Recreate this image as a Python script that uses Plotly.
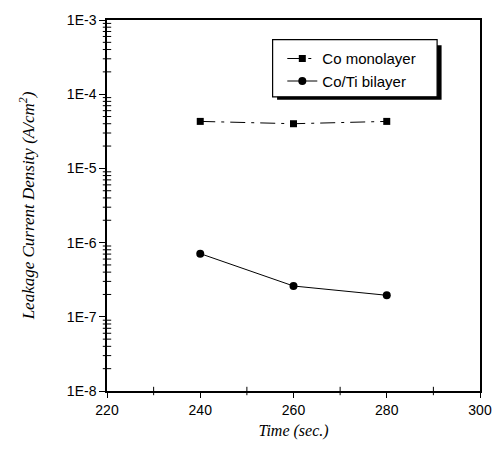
import plotly.graph_objects as go

# Anneal time (s) and leakage current density (A/cm^2)
time_s = [240, 260, 280]
co_mono = [4.3e-5, 4.0e-5, 4.3e-5]
co_ti = [7.1e-7, 2.6e-7, 1.95e-7]

decades = [-8, -7, -6, -5, -4, -3]
y_tickvals = [10.0 ** d for d in decades]
y_ticktext = ["1E%d" % d for d in decades]
y_minorvals = [m * 10.0 ** d for d in decades[:-1] for m in range(2, 10)]
x_tickvals = [220, 240, 260, 280, 300]
x_minorvals = [230, 250, 270, 290]

fig = go.Figure()
fig.add_trace(go.Scatter(
    x=time_s, y=co_mono, name="Co monolayer", mode="lines+markers",
    line=dict(color="black", width=1, dash="longdashdot"),
    marker=dict(symbol="square", size=7, color="black"),
))
fig.add_trace(go.Scatter(
    x=time_s, y=co_ti, name="Co/Ti bilayer", mode="lines+markers",
    line=dict(color="black", width=1),
    marker=dict(symbol="circle", size=8, color="black"),
))

# Minor tick marks along the left and bottom axes
fig.add_trace(go.Scatter(
    x=[220] * len(y_minorvals), y=y_minorvals, mode="markers",
    marker=dict(symbol="line-ew", size=6, line=dict(color="black", width=1)),
    cliponaxis=False, showlegend=False, hoverinfo="skip",
))
fig.add_trace(go.Scatter(
    x=x_minorvals, y=[1e-8] * len(x_minorvals), mode="markers",
    marker=dict(symbol="line-ns", size=6, line=dict(color="black", width=1)),
    cliponaxis=False, showlegend=False, hoverinfo="skip",
))

axis_font = dict(family="Liberation Sans, Arial", size=14, color="black")
title_font = dict(family="Liberation Serif, Times New Roman", size=16, color="black")

fig.update_layout(
    xaxis=dict(
        range=[220, 300], tickvals=x_tickvals, ticks="outside", ticklen=5,
        tickcolor="black", showline=True, linecolor="black", linewidth=1.5,
        mirror=True, showgrid=False, zeroline=False, tickfont=axis_font,
        title=dict(text="<i>Time (sec.)</i>", font=title_font, standoff=8),
    ),
    yaxis=dict(
        type="log", range=[-8, -3], tickvals=y_tickvals, ticktext=y_ticktext,
        ticks="outside", ticklen=6, tickcolor="black", showline=True,
        linecolor="black", linewidth=1.5, mirror=True, showgrid=False,
        zeroline=False, tickfont=axis_font,
        title=dict(text="<i>Leakage Current Density (A/cm<sup>2</sup>)</i>",
                   font=dict(family="Liberation Serif, Times New Roman",
                             size=17, color="black"),
                   standoff=28),
    ),
)

# Legend frame with drop shadow
fig.add_shape(type="rect", xref="paper", yref="paper",
              x0=0.456, x1=0.897, y0=0.785, y1=0.932,
              fillcolor="black", line=dict(width=0), layer="below")
fig.add_shape(type="rect", xref="paper", yref="paper",
              x0=0.444, x1=0.885, y0=0.793, y1=0.947,
              fillcolor="white", line=dict(color="black", width=1.2),
              layer="below")

fig.update_layout(
    width=504, height=449,
    margin=dict(l=107, r=19, t=18, b=54),
    paper_bgcolor="white", plot_bgcolor="rgba(0,0,0,0)",
    showlegend=True,
    legend=dict(x=0.47, y=0.94, xanchor="left", yanchor="top",
                bgcolor="rgba(0,0,0,0)", borderwidth=0,
                font=dict(family="Liberation Sans, Arial", size=15, color="black"),
                itemwidth=30, tracegroupgap=2),
)

fig.write_html("out.html")
